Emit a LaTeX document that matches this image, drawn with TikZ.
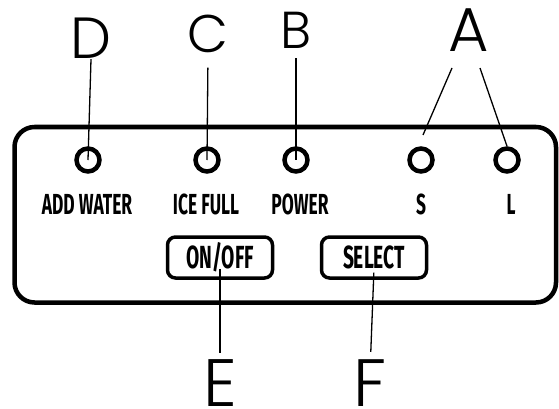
\documentclass[tikz,border=0pt]{standalone}
\usepackage{fontspec}
\newfontfamily\ledfont{Fira Sans}[FakeStretch=0.6]
\newfontfamily\tagfont{Poppins}[UprightFont=* Light]
\begin{document}
\begin{tikzpicture}[x=1pt,y=-1pt,
	panel/.style={draw,rounded corners=20pt,line width=4.5pt,inner sep=0pt},
	led/.style={circle,draw,line width=4.5pt,minimum size=23pt,inner sep=0pt},
	ledtext/.style={font=\ledfont\bfseries\fontsize{29}{29}\selectfont,inner sep=0pt},
	btn/.style={draw,rounded corners=8pt,line width=3.5pt,minimum width=105pt,minimum height=41pt,inner sep=0pt,
		font=\ledfont\bfseries\fontsize{32}{32}\selectfont},
	tag/.style={font=\tagfont\fontsize{#1}{#1}\selectfont,inner sep=0pt,anchor=base},
	leader/.style={line width=1.3pt}]
	
	\useasboundingbox (0,0) rectangle (559,409);
	
	% front panel
	\node[panel,minimum width=541.5pt,minimum height=175.5pt] (panel) at (285.25,214.75) {};
	
	% lamps and their texts
	\node[led] (ledD) at (88,160) {};
	\node[led] (ledC) at (207,160) {};
	\node[led] (ledB) at (296,160) {};
	\node[led] (ledS) at (421,160) {};
	\node[led] (ledL) at (507,160) {};
	\node[ledtext] (addwater) at (87,204) {ADD WATER};
	\node[ledtext] (icefull) at (206,204) {ICE FULL};
	\node[ledtext] (power) at (300,204) {POWER};
	\node[ledtext] (sizeS) at (421,204) {S};
	\node[ledtext] (sizeL) at (511,204) {L};
	
	% buttons
	\node[btn] (onoff) at (220,257.5) {ON/OFF};
	\node[btn] (select) at (374,257.5) {SELECT};
	
	% letters
	\node[tag=58] (D) at (91,59) {D};
	\node[tag=53] (C) at (208,53) {C};
	\node[tag=52] (B) at (296,49) {B};
	\node[tag=62] (A) at (468.5,52) {A};
	\node[tag=67] (E) at (220,406) {E};
	\node[tag=67] (F) at (370.5,406) {F};
	
	\coordinate (a1) at (452,68);
	\coordinate (a2) at (480,68);
	\coordinate (a3) at (423,135);
	
	\draw[leader] (D.south) -- (ledD.center);
	\draw[leader,shorten <=14pt] (C.south) -- (ledC.center);
	\draw[leader,shorten <=9pt] (B.south) -- (ledB.center);
	\draw[leader] (a1) -- (a3);
	\draw[leader] (a2) -- (ledL.north);
	\draw[leader,shorten >=6pt] (onoff.base) -- (E.north);
	\draw[leader,shorten <=4pt,shorten >=7pt] (select.base) -- (F.north);
\end{tikzpicture}
\end{document}
